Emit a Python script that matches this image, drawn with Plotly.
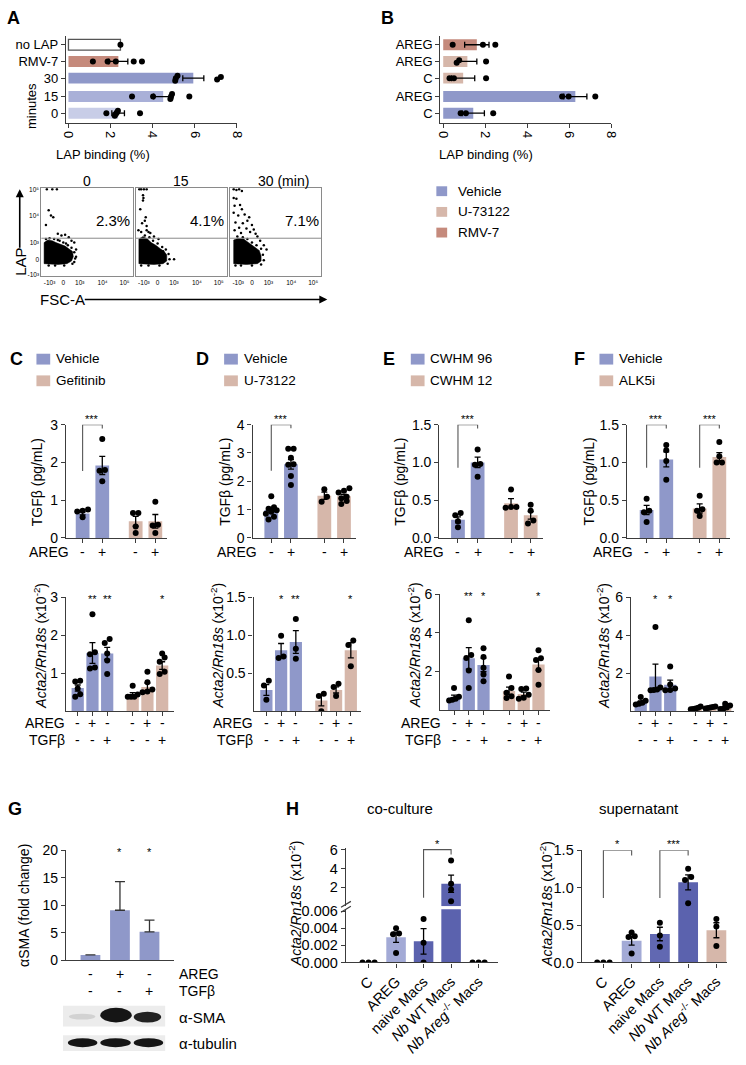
import plotly.graph_objects as go

W, H = 746, 1065
FONT = "Liberation Sans, Arial, Helvetica, sans-serif"
AXC = "#3c3c3c"

BLUE = "#8f98c9"
TAN = "#d6b7aa"
RMV = "#c58a7c"
A30 = "#8f98c9"
A15 = "#a9b0d8"
A0 = "#c8cde7"
H_LIGHT = "#a3aad6"
H_DARK = "#5b62ae"

# ---------------- data ----------------
# Panel A (LAP binding %, horizontal bars, top to bottom)
A_labels = ["no LAP", "RMV-7", "30", "15", "0"]
A_means = [2.47, 2.37, 5.93, 4.50, 2.36]
A_sem = [0, 0.45, 0.50, 0.45, 0.30]
A_points = [[2.47], [1.16, 1.86, 2.25, 3.10, 3.49], [5.07, 5.10, 5.18, 7.06, 7.24],
            [3.02, 4.02, 4.84, 4.87, 4.92, 5.74], [1.80, 2.20, 2.25, 2.30, 2.35, 3.40]]
A_stars = ["", "", "***", "*", ""]

# Panel B
B_labels = ["AREG", "AREG", "C", "AREG", "C"]
B_groups = ["RMV-7", "U-73122", "U-73122", "Vehicle", "Vehicle"]
B_means = [1.60, 1.15, 0.95, 6.29, 1.43]
B_sem = [0.58, 0.45, 0.55, 0.55, 0.53]
B_points = [[0.45, 1.89, 2.48], [0.64, 0.76, 2.04], [0.30, 0.51, 2.04], [5.66, 5.97, 7.24], [0.83, 1.08, 2.38]]
B_stars = ["", "", "", "***", ""]
B_legend = ["Vehicle", "U-73122", "RMV-7"]

# Flow cytometry (display units 0-100 on biexponential scale)
FLOW_titles = ["0", "15", "30 (min)"]
FLOW_pct = ["2.3%", "4.1%", "7.1%"]
FLOW_tick_pos_x = [9, 24, 42, 67, 91]
FLOW_tick_pos_y = [1, 19, 38, 69, 98]
FLOW_tick_text = ["-10³", "0", "10³", "10⁴", "10⁵"]
FLOW_gate = 43
FLOW_blob = [
    [(3, 14), (3, 38), (7, 41), (12, 40), (16, 38), (21, 36), (26, 34), (30, 31), (34, 28), (35, 22), (33, 17), (28, 14), (18, 13), (3, 14)],
    [(3.5, 14), (3.5, 42), (8, 45), (13, 42), (17, 38), (22, 35), (27, 31), (31, 28), (34, 24), (34, 17), (30, 14), (20, 13), (3.5, 14)],
    [(4, 14), (4, 41), (9, 43), (15, 42), (19, 39), (24, 35), (28, 32), (32, 29), (34, 23), (34, 17), (30, 14), (18, 13), (4, 14)],
]
FLOW_dots = [
    [(6, 99), (12, 99), (17, 99), (8, 75), (10.5, 69), (13, 67), (5, 58), (26, 47), (22, 46), (18, 48), (36, 38),
     (38, 30), (33, 40), (38, 22), (30, 44), (5, 42), (9, 43), (14, 42), (18, 41), (24, 38), (29, 35), (33, 32),
     (36, 27), (37, 20), (34, 14), (25, 12), (15, 12), (8, 12), (20, 40), (27, 37), (31, 26), (36, 16)],
    [(4, 99), (6, 99), (9, 99), (12, 99), (8, 92), (8.5, 89), (8, 86), (5, 76), (11, 67), (10, 63), (7, 60),
     (12, 57), (3, 52), (6, 50), (12, 52), (14, 50), (16, 49), (42, 19), (20, 45), (25, 42), (10, 46), (15, 44),
     (19, 40), (24, 37), (29, 33), (33, 30), (36, 25), (37, 19), (35, 14), (26, 12), (14, 12), (6, 12), (30, 28)],
    [(4, 99), (7, 98), (10, 99), (13, 97), (4, 89), (7, 88), (5, 80), (11, 81), (13, 76), (4, 72), (16, 70), (9, 69),
     (21, 67), (19, 63), (6, 61), (14, 60), (24, 58), (10, 55), (18, 54), (26, 53), (5, 52), (22, 50), (12, 49),
     (28, 48), (30, 45), (33, 40), (37, 35), (40, 30), (8, 45), (14, 44), (19, 42), (24, 38), (29, 35), (34, 31),
     (36, 24), (37, 18), (34, 13), (24, 12), (12, 12), (6, 12)],
]

# Panels C-F top: TGFb (pg/mL)
TOP_AREG = ["-", "+", "-", "+"]
C_legend = ["Vehicle", "Gefitinib"]
C_top_means = [0.65, 1.92, 0.44, 0.44]
C_top_sem = [0.04, 0.24, 0.13, 0.18]
C_top_pts = [[0.75, 0.70, 0.72, 0.55], [2.62, 1.80, 1.78, 1.50], [0.66, 0.66, 0.30, 0.13], [0.96, 0.35, 0.33, 0.13]]

D_legend = ["Vehicle", "U-73122"]
D_top_means = [0.99, 2.60, 1.49, 1.47]
D_top_sem = [0.09, 0.17, 0.13, 0.07]
D_top_pts = [[1.47, 1.08, 1.03, 0.98, 0.92, 0.85, 0.75, 0.65], [3.15, 3.15, 2.83, 2.60, 2.58, 2.19, 1.87],
             [1.72, 1.45, 1.28], [1.75, 1.67, 1.60, 1.45, 1.40, 1.30, 1.20]]

E_legend = ["CWHM 96", "CWHM 12"]
E_top_means = [0.24, 1.00, 0.46, 0.30]
E_top_sem = [0.04, 0.07, 0.06, 0.05]
E_top_pts = [[0.33, 0.30, 0.22, 0.14], [1.17, 0.98, 0.97, 0.81], [0.64, 0.41, 0.41, 0.40], [0.44, 0.36, 0.23, 0.19]]

F_legend = ["Vehicle", "ALK5i"]
F_top_means = [0.37, 1.04, 0.39, 1.07]
F_top_sem = [0.06, 0.10, 0.06, 0.06]
F_top_pts = [[0.52, 0.36, 0.34, 0.21], [1.23, 1.16, 1.02, 0.77], [0.56, 0.38, 0.36, 0.29], [1.27, 1.08, 1.00, 1.00]]

# Panels C-F bottom: Acta2/Rn18s (x10^-2)
BOT_AREG = ["-", "+", "-", "-", "+", "-"]
BOT_TGFB = ["-", "-", "+", "-", "-", "+"]
C_bot_means = [0.61, 1.53, 1.52, 0.44, 0.64, 1.20]
C_bot_sem = [0.08, 0.27, 0.16, 0.05, 0.10, 0.10]
C_bot_pts = [[0.80, 0.78, 0.60, 0.45, 0.38], [2.55, 1.55, 1.50, 1.15, 1.12], [1.90, 1.79, 1.52, 1.33, 0.98],
             [0.67, 0.44, 0.38, 0.38, 0.38], [1.04, 0.76, 0.57, 0.52, 0.50], [1.52, 1.41, 1.30, 1.04, 0.98]]
C_bot_stars = ["", "**", "**", "", "", "*"]

D_bot_means = [0.28, 0.80, 0.91, 0.14, 0.28, 0.80]
D_bot_sem = [0.07, 0.09, 0.15, 0.07, 0.04, 0.10]
D_bot_pts = [[0.40, 0.34, 0.15], [0.99, 0.72, 0.70], [1.21, 0.82, 0.69], [0.23, 0.20, 0.0], [0.36, 0.32, 0.20], [0.93, 0.87, 0.59]]
D_bot_stars = ["", "*", "**", "", "", "*"]

E_bot_means = [0.66, 2.68, 2.34, 1.00, 0.84, 2.37]
E_bot_sem = [0.12, 0.55, 0.35, 0.20, 0.10, 0.30]
E_bot_pts = [[1.15, 0.70, 0.60, 0.55, 0.50], [4.65, 2.85, 2.70, 2.05, 1.15], [3.20, 2.75, 2.20, 1.85, 1.50],
             [1.74, 1.15, 0.90, 0.72, 0.64], [1.12, 1.10, 0.80, 0.65, 0.60], [3.10, 2.68, 2.60, 2.08, 1.32]]
E_bot_stars = ["", "**", "*", "", "", "*"]

F_bot_means = [0.47, 1.83, 1.39, 0.17, 0.20, 0.20]
F_bot_sem = [0.08, 0.65, 0.25, 0.03, 0.02, 0.05]
F_bot_pts = [[0.75, 0.55, 0.45, 0.40, 0.35], [4.43, 1.25, 1.15, 1.12, 1.10], [2.35, 1.40, 1.20, 1.12, 1.10],
             [0.25, 0.18, 0.15, 0.12, 0.10], [0.25, 0.22, 0.20, 0.17, 0.15], [0.40, 0.30, 0.20, 0.15, 0.12]]
F_bot_stars = ["", "*", "*", "", "", ""]

# Panel G
G_AREG = ["-", "+", "-"]
G_TGFB = ["-", "-", "+"]
G_means = [1.0, 9.1, 5.2]
G_sem = [0, 5.2, 2.1]
G_stars = ["", "*", "*"]

# Panel H
H_labels = ["C", "AREG", "naive Macs", "<i>Nb</i> WT Macs", "<i>Nb Areg</i><sup>-/-</sup> Macs"]
CO_means = [0.0, 0.00295, 0.00247, 2.39, 0.0]
CO_sem = [0, 0.0006, 0.0015, 0.92, 0]
CO_pts = [[0, 0, 0], [0.0040, 0.0034, 0.0033, 0.0011], [0.0051, 0.0023, 0.0], [4.85, 2.40, 1.77, 0.53], [0, 0, 0]]
SN_means = [0.0, 0.29, 0.38, 1.07, 0.43]
SN_sem = [0, 0.06, 0.09, 0.10, 0.10]
SN_pts = [[0, 0, 0], [0.40, 0.35, 0.34, 0.12], [0.53, 0.36, 0.21], [1.25, 1.14, 1.10, 0.79], [0.58, 0.48, 0.22]]

# ---------------- helpers ----------------
fig = go.Figure()
layout_axes = {}
ann = []
shapes = []
count = [0]

BASE = dict(showline=True, linecolor=AXC, linewidth=1.3, ticks="outside", ticklen=4, tickwidth=1.2,
            tickcolor=AXC, showgrid=False, zeroline=False, fixedrange=True,
            tickfont=dict(family=FONT, size=14, color="black"))


def make_axes(x0, x1, ytop, ybot, xr, yr, xo=None, yo=None):
    count[0] += 1
    k = count[0]
    s = "" if k == 1 else str(k)
    xa = {**BASE, "domain": [x0 / W, x1 / W], "range": xr, "anchor": "y" + s}
    xa.update(xo or {})
    ya = {**BASE, "domain": [1 - ybot / H, 1 - ytop / H], "range": yr, "anchor": "x" + s}
    ya.update(yo or {})
    layout_axes["xaxis" + s] = xa
    layout_axes["yaxis" + s] = ya
    return "x" + s, "y" + s


def txt(x, y, s, size=14, xanchor="center", yanchor="middle", angle=0, bold=False,
        xref="paper", yref="paper", yshift=0):
    if xref == "paper":
        x = x / W
    if yref == "paper":
        y = 1 - y / H
    if bold:
        s = "<b>%s</b>" % s
    ann.append(dict(x=x, y=y, xref=xref, yref=yref, text=s, showarrow=False, xanchor=xanchor,
                    yanchor=yanchor, textangle=angle, yshift=yshift,
                    font=dict(family=FONT, size=size, color="black")))


def arrow(xh, yh, xt, yt):
    ann.append(dict(x=xh / W, y=1 - yh / H, ax=xt - xh, ay=yt - yh, xref="paper", yref="paper",
                    axref="pixel", ayref="pixel", text="", showarrow=True, arrowhead=2, arrowsize=1,
                    arrowwidth=1.6, arrowcolor="black"))


def rect(x0, y0, x1, y1, color, kind="rect"):
    shapes.append(dict(type=kind, xref="paper", yref="paper", x0=x0 / W, x1=x1 / W,
                       y0=1 - y1 / H, y1=1 - y0 / H, fillcolor=color, line=dict(width=0)))


def swarm(vals, tol, step):
    order = sorted(range(len(vals)), key=lambda i: vals[i])
    offs = [0.0] * len(vals)
    groups, cur = [], [order[0]]
    for i in order[1:]:
        if vals[i] - vals[cur[0]] < tol:
            cur.append(i)
        else:
            groups.append(cur)
            cur = [i]
    groups.append(cur)
    for g in groups:
        k = len(g)
        st = step if k <= 3 else step * 2.0 / (k - 1)
        for j, i in enumerate(g):
            offs[i] = (j - (k - 1) / 2) * st
    return offs


def dots(xa, ya, pos, pts, tol, step, horizontal=False, size=6, keep=None):
    xs, ys = [], []
    for p, vals in zip(pos, pts):
        offs = swarm(vals, tol, step)
        for v, o in zip(vals, offs):
            if keep is not None and not keep(v):
                continue
            if horizontal:
                xs.append(v); ys.append(p + o)
            else:
                xs.append(p + o); ys.append(v)
    fig.add_trace(go.Scatter(x=xs, y=ys, xaxis=xa, yaxis=ya, mode="markers",
                             marker=dict(color="black", size=size, line=dict(width=0)),
                             showlegend=False, hoverinfo="skip"))


def errs(v):
    return [e if e else None for e in v]


def vbars(xa, ya, pos, means, sems, colors, width, errcolor="black", one_sided=False):
    ey = dict(type="data", array=errs(sems), color=errcolor, thickness=1.3, width=3)
    if one_sided:
        ey.update(symmetric=False, arrayminus=[0] * len(sems), width=5)
    fig.add_trace(go.Bar(x=pos, y=means, width=width, marker=dict(color=colors, line=dict(width=0)),
                         error_y=ey, xaxis=xa, yaxis=ya, showlegend=False, hoverinfo="skip"))


def bracket(xa, ya, x0, x1, yl, yt, yr, stars):
    shapes.append(dict(type="path", path="M %g,%g L %g,%g L %g,%g L %g,%g" % (x0, yl, x0, yt, x1, yt, x1, yr),
                       xref=xa, yref=ya, line=dict(color="#555", width=1.1)))
    txt((x0 + x1) / 2, yt, stars, size=11, xref=xa, yref=ya, yanchor="bottom", yshift=-2)


# ---------------- Panel A & B ----------------
HPOS = [4.1, 3.1, 2.1, 1.0, 0.0]
xa, ya = make_axes(62, 236, 28, 117, [-0.12, 8], [-0.6, 4.65],
                   xo=dict(tickvals=[0, 2, 4, 6, 8], tickangle=90, tickfont=dict(family=FONT, size=13)),
                   yo=dict(tickvals=HPOS, ticktext=A_labels, tickfont=dict(family=FONT, size=13)))
fig.add_trace(go.Bar(x=A_means, y=HPOS, orientation="h", width=0.65,
                     marker=dict(color=["white", RMV, A30, A15, A0], line=dict(color="#555", width=[1.3, 0, 0, 0, 0])),
                     error_x=dict(type="data", array=errs(A_sem), color="black", thickness=1.3, width=3),
                     xaxis=xa, yaxis=ya, showlegend=False, hoverinfo="skip"))
dots(xa, ya, HPOS, A_points, 0.2, 0.15, horizontal=True)
for p, s in zip(HPOS, A_stars):
    if s:
        txt(8.05, p, s, size=10, xref=xa, yref=ya, angle=90)
txt(100, 149, "LAP binding (%)", size=13)
txt(27, 100, "minutes", size=13, angle=-90)
txt(9, 10, "A", size=18, bold=True)

BCOL = {"Vehicle": BLUE, "U-73122": TAN, "RMV-7": RMV}
xa, ya = make_axes(443, 617, 28, 117, [-0.14, 8], [-0.6, 4.65],
                   xo=dict(tickvals=[0, 2, 4, 6, 8], tickangle=90, tickfont=dict(family=FONT, size=13)),
                   yo=dict(tickvals=HPOS, ticktext=B_labels, tickfont=dict(family=FONT, size=13)))
fig.add_trace(go.Bar(x=B_means, y=HPOS, orientation="h", width=0.65,
                     marker=dict(color=[BCOL[g] for g in B_groups], line=dict(width=0)),
                     error_x=dict(type="data", array=errs(B_sem), color="black", thickness=1.3, width=3),
                     xaxis=xa, yaxis=ya, showlegend=False, hoverinfo="skip"))
dots(xa, ya, HPOS, B_points, 0.2, 0.15, horizontal=True)
for p, s in zip(HPOS, B_stars):
    if s:
        txt(8.05, p, s, size=10, xref=xa, yref=ya, angle=90)
txt(490, 149, "LAP binding (%)", size=13)
txt(389, 10, "B", size=18, bold=True)
for i, (lab, yc) in enumerate(zip(B_legend, [186, 207, 228])):
    rect(439, yc - 5, 450, yc + 5, BCOL[lab])
    txt(459, yc, lab, size=13.5, xanchor="left")

# ---------------- Flow panels ----------------
FLOW_X = [(37, 130), (133, 226), (229, 322)]
for i, (x0, x1) in enumerate(FLOW_X):
    fo = dict(ticks="", mirror=True, linecolor="#8a8a8a", linewidth=1,
              tickfont=dict(family=FONT, size=6.5, color="black"))
    xo = dict(fo, tickvals=FLOW_tick_pos_x, ticktext=FLOW_tick_text)
    yo = dict(fo, tickvals=FLOW_tick_pos_y, ticktext=FLOW_tick_text, showticklabels=(i == 0))
    xa, ya = make_axes(x0, x1, 183, 272, [0, 100], [0, 100], xo=xo, yo=yo)
    bx = [p[0] for p in FLOW_blob[i]]
    by = [p[1] for p in FLOW_blob[i]]
    fig.add_trace(go.Scatter(x=bx, y=by, fill="toself", fillcolor="black", mode="lines",
                             line=dict(color="black", width=0.5), xaxis=xa, yaxis=ya,
                             showlegend=False, hoverinfo="skip"))
    fig.add_trace(go.Scatter(x=[p[0] for p in FLOW_dots[i]], y=[p[1] for p in FLOW_dots[i]],
                             mode="markers", marker=dict(color="black", size=2.5),
                             xaxis=xa, yaxis=ya, showlegend=False, hoverinfo="skip"))
    shapes.append(dict(type="line", xref=xa + " domain", x0=0, x1=1, yref=ya, y0=FLOW_gate, y1=FLOW_gate,
                       line=dict(color="#8a8a8a", width=1)))
    txt((x0 + x1) / 2 + (8 if i == 2 else 0), 176, FLOW_titles[i], size=14)
    txt(x1 - 20, 216, FLOW_pct[i], size=15)

txt(15, 258, "LAP", size=15, angle=-90)
arrow(15, 184, 15, 244)
txt(59, 296, "FSC-A", size=15)
arrow(328, 296, 84, 296)

# ---------------- Panels C-F ----------------
TOP_POS = [0, 1, 2.7, 3.7]
BOT_POS = [0, 1, 2, 3.73, 4.73, 5.73]
TOP_COL = [BLUE, BLUE, TAN, TAN]
BOT_COL = [BLUE, BLUE, BLUE, TAN, TAN, TAN]

top_specs = [
    ("C", 12, 32, 62, 79, 165, 3, [0, 1, 2, 3], None, C_legend, C_top_means, C_top_sem, C_top_pts,
     [(0, 1, 1.77, 3.0, 2.9)], 32),
    ("D", 201, 223, 252, 271, 357, 4, [0, 1, 2, 3, 4], None, D_legend, D_top_means, D_top_sem, D_top_pts,
     [(0, 1, 2.37, 4.0, 3.87)], 224),
    ("E", 391, 413, 442, 461, 548, 1.5, [0, 0.5, 1.0, 1.5], ["0.0", "0.5", "1.0", "1.5"], E_legend,
     E_top_means, E_top_sem, E_top_pts, [(0, 1, 0.93, 1.5, 1.45)], 402),
    ("F", 585, 605, 633, 653, 738, 1.5, [0, 0.5, 1.0, 1.5], ["0.0", "0.5", "1.0", "1.5"], F_legend,
     F_top_means, F_top_sem, F_top_pts, [(0, 1, 0.93, 1.5, 1.45), (2.7, 3.7, 0.93, 1.5, 1.45)], 594),
]
for (let, lx, sqx, axp, fp, ep, ymax, tv, tt, leg, means, sem, pts, brs, tx) in top_specs:
    sp = 20.0
    r0 = -(fp - axp) / sp
    r1 = (ep - fp) / sp
    yo = dict(tickvals=tv)
    if tt:
        yo["ticktext"] = tt
    xa, ya = make_axes(axp, ep, 423, 538, [r0, r1], [0, ymax],
                       xo=dict(tickvals=TOP_POS, showticklabels=False), yo=yo)
    vbars(xa, ya, TOP_POS, means, sem, TOP_COL, 0.7)
    ppu = 115.0 / ymax
    dots(xa, ya, TOP_POS, pts, 5.0 / ppu, 5.5 / sp)
    for (a, b, yl, yt, yr) in brs:
        bracket(xa, ya, a, b, yl, yt, yr, "***")
    txt(lx, 356, let, size=18, bold=True)
    rect(sqx, 351, sqx + 14, 362, BLUE)
    rect(sqx, 373, sqx + 14, 384, TAN)
    txt(sqx + 18, 356, leg[0], size=13.5, xanchor="left")
    txt(sqx + 18, 378, leg[1], size=13.5, xanchor="left")
    txt(tx, 481, "TGFβ (pg/mL)", size=14, angle=-90)
    txt(-0.6, 552, "AREG", size=14, xanchor="right", xref=xa)
    for p, s in zip(TOP_POS, TOP_AREG):
        txt(p, 552, s, size=14, xref=xa)

bot_specs = [
    (62, 74, 172, 598, 714, 3, [1, 2, 3], None, C_bot_means, C_bot_sem, C_bot_pts, C_bot_stars, 36),
    (253, 266, 362, 598, 714, 1.5, [0.5, 1.0, 1.5], ["0.5", "1.0", "1.5"], D_bot_means, D_bot_sem, D_bot_pts, D_bot_stars, 216),
    (443, 457, 555, 595, 713, 6, [2, 4, 6], None, E_bot_means, E_bot_sem, E_bot_pts, E_bot_stars, 417),
    (637, 647, 742, 598, 714, 6, [2, 4, 6], None, F_bot_means, F_bot_sem, F_bot_pts, F_bot_stars, 609),
]
for (axp, fp, ep, yt, yb, ymax, tv, tt, means, sem, pts, stars, tx) in bot_specs:
    sp = 15.0
    r0 = -(fp - axp) / sp
    r1 = (ep - fp) / sp
    yo = dict(tickvals=tv)
    if tt:
        yo["ticktext"] = tt
    xa, ya = make_axes(axp, ep, yt, yb, [r0, r1], [0, ymax],
                       xo=dict(tickvals=BOT_POS, showticklabels=False), yo=yo)
    vbars(xa, ya, BOT_POS, means, sem, BOT_COL, 0.83)
    ppu = (yb - yt) / ymax
    dots(xa, ya, BOT_POS, pts, 5.0 / ppu, 5.0 / sp)
    for p, s in zip(BOT_POS, stars):
        if s:
            txt(p, ymax, s, size=11, xref=xa, yref=ya, yshift=-2)
    txt(tx, 647, "<i>Acta2/Rn18s</i> (x10<sup>-2</sup>)", size=14, angle=-90)
    txt(-0.75, 726, "AREG", size=14, xanchor="right", xref=xa)
    txt(-0.75, 743, "TGFβ", size=14, xanchor="right", xref=xa)
    for p, s1, s2 in zip(BOT_POS, BOT_AREG, BOT_TGFB):
        txt(p, 726, s1, size=14, xref=xa)
        txt(p, 743, s2, size=14, xref=xa)

# ---------------- Panel G ----------------
G_POS = [0, 1, 2]
xa, ya = make_axes(62, 172, 855, 967, [-0.83, 2.83], [0, 20],
                   xo=dict(tickvals=[], ticks=""), yo=dict(tickvals=[0, 5, 10, 15, 20]))
vbars(xa, ya, G_POS, G_means, G_sem, [BLUE] * 3, 0.67, errcolor="#333", one_sided=True)
for p, s in zip(G_POS, G_stars):
    if s:
        txt(p, 20, s, size=11, xref=xa, yref=ya, yshift=-2)
txt(20, 911, "αSMA (fold change)", size=14, angle=-90)
txt(10, 813, "G", size=18, bold=True)
txt(175, 981, "AREG", size=14, xanchor="left")
txt(175, 998, "TGFβ", size=14, xanchor="left")
for p, s1, s2 in zip(G_POS, G_AREG, G_TGFB):
    txt(p, 981, s1, size=14, xref=xa)
    txt(p, 998, s2, size=14, xref=xa)
# western blot strips
rect(59, 1013, 163, 1034, "#ececec")
rect(59, 1043, 163, 1059, "#ececec")
rect(65, 1021, 92, 1027, "#d2d2d2", "circle")
rect(97, 1015, 129, 1030, "#151515", "circle")
rect(131, 1019, 159, 1030, "#222222", "circle")
for (a, b) in [(64, 94), (97, 128), (131, 161)]:
    rect(a, 1046, b, 1055, "#151515", "circle")
txt(175, 1025, "α-SMA", size=15, xanchor="left")
txt(175, 1051, "α-tubulin", size=15, xanchor="left")

# ---------------- Panel H ----------------
txt(293, 813, "H", size=18, bold=True)
H_POS = [0, 1, 2, 3, 4]
HT = dict(family=FONT, size=14.5, color="black")
CO_COL = [H_LIGHT, H_LIGHT, H_DARK, H_DARK, TAN]
CO_BOT_MAX = 0.00623
co_r = [-(370 - 347) / 28.0, (502 - 370) / 28.0]
xa, ya = make_axes(347, 502, 915, 969, co_r, [0, CO_BOT_MAX],
                   xo=dict(tickvals=H_POS, ticktext=H_labels, tickangle=-45, tickfont=HT),
                   yo=dict(tickvals=[0, 0.002, 0.004, 0.006], ticktext=["0.000", "0.002", "0.004", "0.006"], tickfont=HT))
vbars(xa, ya, H_POS, CO_means, [e if i != 3 else 0 for i, e in enumerate(CO_sem)], CO_COL, 0.71)
dots(xa, ya, H_POS, CO_pts, 0.0002, 0.22, keep=lambda v: v <= CO_BOT_MAX)
xt, yt = make_axes(347, 502, 853, 912, co_r, [0, 6.15],
                   xo=dict(visible=False), yo=dict(tickvals=[2, 4, 6], tickfont=HT))
top_means = [m if m > CO_BOT_MAX else None for m in CO_means]
top_sem = [e if m > CO_BOT_MAX else 0 for m, e in zip(CO_means, CO_sem)]
vbars(xt, yt, H_POS, top_means, top_sem, CO_COL, 0.71)
dots(xt, yt, H_POS, CO_pts, 0.4, 0.22, keep=lambda v: v > CO_BOT_MAX)
bracket(xt, yt, 2, 3, 0.9, 6.0, 5.47, "*")
for yy in (910, 915):
    shapes.append(dict(type="line", xref="paper", yref="paper", x0=342 / W, x1=352 / W,
                       y0=1 - (yy + 3) / H, y1=1 - (yy - 3) / H, line=dict(color=AXC, width=1.2)))
txt(402, 813, "co-culture", size=15)
txt(296, 909, "<i>Acta2/Rn18s</i> (x10<sup>-2</sup>)", size=14, angle=-90)

sn_r = [-(609 - 587) / 28.75, (735 - 609) / 28.75]
xa, ya = make_axes(587, 735, 855, 969, sn_r, [0, 1.5],
                   xo=dict(tickvals=H_POS, ticktext=H_labels, tickangle=-45, tickfont=HT),
                   yo=dict(tickvals=[0, 0.5, 1.0, 1.5], ticktext=["0.0", "0.5", "1.0", "1.5"], tickfont=HT))
SN_COL = [H_LIGHT, H_LIGHT, "#6168b2", H_DARK, TAN]
vbars(xa, ya, H_POS, SN_means, SN_sem, SN_COL, 0.7)
dots(xa, ya, H_POS, SN_pts, 0.04, 0.22)
bracket(xa, ya, 0, 1, 0.86, 1.5, 1.43, "*")
bracket(xa, ya, 2, 3, 0.86, 1.5, 1.43, "***")
txt(645, 813, "supernatant", size=15)
txt(551, 909, "<i>Acta2/Rn18s</i> (x10<sup>-2</sup>)", size=14, angle=-90)

fig.update_layout(width=W, height=H, autosize=False, margin=dict(l=0, r=0, t=0, b=0),
                  paper_bgcolor="white", plot_bgcolor="white", showlegend=False, barmode="overlay",
                  font=dict(family=FONT, color="black"), annotations=ann, shapes=shapes, **layout_axes)
fig.write_html("out.html", config={"displayModeBar": False},
               post_script="document.body.style.margin='0px';")
